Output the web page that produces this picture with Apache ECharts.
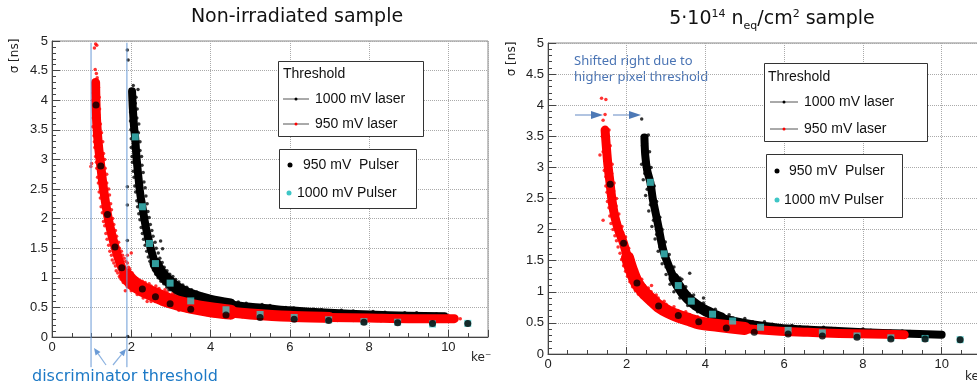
<!DOCTYPE html>
<html>
<head>
<meta charset="utf-8">
<script src="https://cdn.jsdelivr.net/npm/echarts/dist/echarts.min.js"></script>
<style>
html, body { margin: 0; padding: 0; background: #fff; }
#chart { width: 977px; height: 388px; }
</style>
</head>
<body>
<div id="chart"></div>
<script>
// ---- data: non-irradiated sample (left) ----
var xTicksMax = 11;
var thresholdLeft = [0.985, 1.89];

// dense core of the laser clouds (centre of band)
var laser1000L_core = [[2.02,4.15],[2.04,3.85],[2.07,3.55],[2.10,3.35],[2.13,3.05],[2.18,2.7],[2.23,2.4],[2.28,2.2],[2.36,1.88],[2.46,1.58],[2.53,1.4],[2.61,1.24],[2.75,1.08],[2.9,0.97],[3.05,0.88],[3.25,0.79],[3.5,0.71],[4.0,0.61],[4.5,0.55],[5.0,0.51],[5.5,0.48],[6.0,0.45],[7.0,0.41],[8.0,0.38],[9.0,0.36],[9.9,0.35]];
var laser950L_core = [[1.10,4.3],[1.11,3.95],[1.13,3.6],[1.17,3.25],[1.23,2.89],[1.30,2.5],[1.40,2.07],[1.49,1.78],[1.59,1.52],[1.68,1.32],[1.76,1.17],[1.88,1.03],[2.05,0.91],[2.28,0.81],[2.61,0.71],[2.98,0.61],[3.5,0.52],[4.0,0.46],[4.5,0.42],[5.0,0.39],[6.0,0.35],[7.0,0.33],[8.0,0.32],[9.0,0.31],[10.15,0.31]];
// scattered single events around the bands
var laser1000L_pts = [[1.90,4.85],[1.92,4.68],[1.90,2.54],[1.90,2.23],[1.90,1.63],[1.91,0.01],[2.17,4.18],[2.05,4.25],[1.99,4.1],[2.12,4.05],
  [1.98,3.8],[2.15,3.85],[1.99,3.5],[2.19,3.6],[2.0,3.2],[2.22,3.3],[2.03,2.95],[2.26,3.05],[2.07,2.7],[2.3,2.78],
  [2.11,2.45],[2.35,2.52],[2.16,2.2],[2.4,2.25],[2.22,1.98],[2.45,2.02],[2.28,1.75],[2.52,1.8],[2.35,1.55],[2.6,1.6],
  [2.43,1.35],[2.68,1.42],[2.52,1.2],[2.78,1.26],[2.62,1.06],[2.9,1.12],[2.75,0.94],[3.05,1.02],[2.9,0.84],[3.2,0.93],
  [3.1,0.74],[3.4,0.84],[3.35,0.66],[3.65,0.76],[3.7,0.58],[4.0,0.68],[4.1,0.52],[4.4,0.62],[4.6,0.48],[4.9,0.57],
  [5.2,0.44],[5.5,0.53],[5.8,0.41],[6.1,0.49],[6.5,0.38],[6.8,0.46],[7.3,0.36],[7.6,0.44],[8.1,0.35],[8.4,0.42],
  [8.9,0.34],[9.2,0.41],[9.6,0.33],[9.9,0.38],[2.79,1.49],[2.74,1.62],[2.95,0.8],
  [2.0,4.0],[2.1,3.95],[1.98,3.65],[2.14,3.7],[2.0,3.35],[2.18,3.45],[2.02,3.05],[2.22,3.15],[2.05,2.8],[2.27,2.9],
  [2.09,2.55],[2.32,2.62],[2.14,2.3],[2.37,2.38],[2.19,2.08],[2.42,2.12],[2.25,1.85],[2.48,1.9],[2.31,1.65],[2.55,1.7],
  [2.39,1.45],[2.63,1.5],[2.47,1.28],[2.72,1.33],[2.56,1.13],[2.83,1.18],[2.68,1.0],[2.97,1.06],[2.82,0.9],[3.12,0.97],
  [3.0,0.8],[3.3,0.88],[3.22,0.7],[3.52,0.8],[3.5,0.62],[3.8,0.72],[3.9,0.55],[4.2,0.64],[4.35,0.5],[4.7,0.59],
  [4.9,0.46],[5.3,0.55],[5.5,0.43],[5.9,0.5],[6.2,0.4],[6.6,0.47],[7.0,0.37],[7.3,0.45],[7.8,0.36],[8.1,0.43],
  [8.7,0.35],[8.9,0.41],[9.4,0.34],[9.7,0.39]];
var laser950L_pts = [[1.10,4.95],[1.07,4.88],[1.13,4.93],[1.09,4.52],[1.12,4.45],[1.14,4.38],[1.06,4.32],[1.17,4.22],[1.04,4.12],[1.19,4.05],
  [1.05,3.8],[1.2,3.85],[1.03,3.55],[1.22,3.6],[1.06,3.4],[1.25,3.45],[1.08,3.2],[1.28,3.3],[0.98,2.88],[1.0,2.93],
  [1.12,2.95],[1.33,3.0],[1.15,2.7],[1.38,2.75],[1.19,2.45],[1.43,2.5],[1.24,2.2],[1.48,2.25],[1.3,1.95],[1.53,2.0],
  [1.36,1.75],[1.6,1.8],[1.43,1.55],[1.68,1.6],[1.5,1.38],[1.75,1.45],[1.56,1.25],[1.82,1.33],[1.62,1.12],[1.9,1.25],
  [1.7,1.02],[1.96,1.15],[1.8,0.92],[2.02,1.08],[1.9,0.85],[2.1,1.0],[2.0,0.78],[2.2,0.93],[2.15,0.72],[2.35,0.92],
  [2.3,0.66],[2.5,0.86],[2.5,0.6],[2.7,0.82],[2.75,0.56],[2.9,0.76],[3.0,0.52],[3.15,0.7],[3.3,0.46],[3.4,0.63],
  [3.6,0.42],[3.7,0.58],[3.9,0.38],[4.0,0.54],[4.3,0.36],[4.4,0.5],[4.8,0.34],[4.9,0.47],[5.3,0.32],[5.4,0.45],
  [5.8,0.3],[6.0,0.42],[6.5,0.29],[6.7,0.4],[7.2,0.28],[7.4,0.39],[7.9,0.28],[8.1,0.38],[8.6,0.27],[8.8,0.37],
  [9.3,0.27],[9.5,0.36],[9.9,0.27],[10.0,0.36],[10.3,0.31],[1.9,1.38],[2.0,1.42],[1.85,0.78],[2.4,0.6],[3.2,0.45],
  [1.03,4.0],[1.16,4.15],[1.08,3.95],[1.18,3.75],[1.04,3.7],[1.2,3.5],[1.07,3.3],[1.24,3.2],[1.1,3.05],[1.3,3.1],
  [1.13,2.85],[1.34,2.85],[1.17,2.6],[1.38,2.6],[1.22,2.35],[1.45,2.4],[1.27,2.1],[1.5,2.15],[1.33,1.88],[1.56,1.9],
  [1.39,1.65],[1.63,1.7],[1.46,1.45],[1.7,1.5],[1.52,1.3],[1.78,1.38],[1.6,1.2],[1.86,1.28],[1.66,1.08],[1.93,1.18],
  [1.74,0.98],[1.97,1.05],[1.82,0.95],[1.95,0.9],[2.05,0.82],[2.12,0.97],[2.22,0.72],[2.28,0.94],[2.4,0.66],[2.45,0.9],
  [2.6,0.6],[2.62,0.86],[2.8,0.55],[2.85,0.8],[3.1,0.5],[3.05,0.74],[3.4,0.44],[3.3,0.67],[3.75,0.4],[3.6,0.6],
  [4.15,0.37],[4.2,0.54],[4.6,0.35],[4.6,0.5],[5.1,0.33],[5.1,0.46],[5.6,0.31],[5.7,0.44],[6.2,0.29],[6.3,0.42],
  [6.9,0.29],[7.0,0.4],[7.6,0.28],[7.7,0.38],[8.3,0.27],[8.4,0.37],[9.0,0.27],[9.1,0.36],[9.7,0.27],[9.8,0.35]];
var pulser950L = [[1.11,3.92],[1.23,2.89],[1.40,2.07],[1.59,1.52],[1.76,1.17],[2.28,0.81],[2.61,0.68],[2.98,0.56],[3.50,0.47],[4.39,0.37],[5.25,0.33],[6.11,0.30],[6.98,0.28],[7.87,0.25],[8.72,0.24],[9.60,0.23],[10.49,0.23]];
var pulser1000L = [[2.10,3.38],[2.28,2.20],[2.46,1.58],[2.61,1.24],[2.98,0.91],[3.50,0.61],[4.39,0.46],[5.25,0.38],[6.11,0.33],[6.98,0.29],[7.87,0.26],[8.72,0.25],[9.60,0.22],[10.49,0.23]];

// ---- data: 5e14 neq/cm2 sample (right) ----
var laser1000R_core = [[2.45,3.48],[2.47,3.2],[2.52,2.95],[2.60,2.76],[2.66,2.5],[2.74,2.25],[2.82,2.0],[2.88,1.8],[2.95,1.62],[3.08,1.4],[3.2,1.22],[3.31,1.10],[3.45,0.97],[3.65,0.84],[3.9,0.73],[4.18,0.64],[4.4,0.58],[4.69,0.54],[5.0,0.5],[5.4,0.46],[6.1,0.41],[7.0,0.38],[8.0,0.35],[9.0,0.33],[10.0,0.31]];
var laser950R_core = [[1.45,3.6],[1.48,3.35],[1.52,3.05],[1.58,2.73],[1.63,2.45],[1.70,2.2],[1.80,1.98],[1.92,1.78],[2.02,1.55],[2.12,1.35],[2.26,1.14],[2.45,0.98],[2.65,0.86],[2.81,0.77],[3.05,0.68],[3.31,0.61],[3.6,0.55],[3.83,0.5],[4.3,0.46],[5.0,0.41],[5.8,0.37],[6.6,0.35],[7.4,0.33],[8.2,0.32],[9.05,0.31]];
var laser1000R_pts = [[2.38,3.78],[2.40,3.35],[2.55,3.52],[2.38,3.05],[2.58,3.25],[2.42,2.8],[2.62,3.0],[2.48,2.55],[2.7,2.7],[2.56,2.3],
  [2.76,2.45],[2.64,2.05],[2.84,2.2],[2.72,1.85],[2.9,2.0],[2.8,1.65],[2.98,1.8],[2.9,1.45],[3.08,1.6],[3.0,1.28],
  [3.2,1.4],[3.1,1.12],[3.35,1.22],[3.2,1.0],[3.5,1.08],[3.35,0.9],[3.7,0.95],[3.55,0.78],[3.95,0.82],[3.8,0.68],
  [4.25,0.72],[4.1,0.58],[4.6,0.63],[4.5,0.5],[5.0,0.57],[5.0,0.44],[5.5,0.52],[5.6,0.4],[6.2,0.46],[6.5,0.36],
  [7.0,0.43],[7.5,0.33],[8.0,0.4],[8.5,0.31],[9.0,0.37],[9.5,0.29],[10.0,0.35],[3.6,1.3],[3.95,0.9],[3.4,1.2],
  [2.42,3.45],[2.5,3.38],[2.43,3.15],[2.53,3.1],[2.46,2.9],[2.58,2.88],[2.52,2.65],[2.65,2.62],[2.6,2.4],[2.72,2.38],
  [2.68,2.15],[2.8,2.12],[2.76,1.92],[2.87,1.9],[2.84,1.72],[2.94,1.7],[2.92,1.55],[3.02,1.5],[3.0,1.4],[3.12,1.32],
  [3.12,1.2],[3.25,1.15],[3.22,1.08],[3.4,1.02],[3.35,0.98],[3.55,0.9],[3.5,0.86],[3.75,0.8],[3.7,0.74],[4.0,0.7],
  [4.0,0.64],[4.3,0.62],[4.35,0.56],[4.7,0.58],[4.8,0.5],[5.2,0.52],[5.3,0.46],[5.7,0.48],[5.9,0.42],[6.4,0.44],
  [6.7,0.38],[7.2,0.41],[7.6,0.36],[8.2,0.38],[8.6,0.33],[9.2,0.36],[9.6,0.32],[9.9,0.33]];
var laser950R_pts = [[1.36,4.11],[1.47,4.09],[1.40,3.76],[1.45,3.85],[1.40,2.15],[1.38,3.5],[1.55,3.6],[1.40,3.25],[1.58,3.35],[1.43,2.95],
  [1.63,3.05],[1.47,2.7],[1.68,2.75],[1.51,2.45],[1.74,2.5],[1.57,2.22],[1.8,2.25],[1.65,2.0],[1.88,2.05],[1.74,1.82],
  [1.97,1.88],[1.83,1.62],[2.05,1.7],[1.92,1.42],[2.15,1.52],[2.02,1.25],[2.25,1.35],[2.15,1.08],[2.38,1.2],[2.3,0.96],
  [2.55,1.06],[2.5,0.86],[2.75,0.95],[2.7,0.76],[2.95,0.85],[2.95,0.67],[3.2,0.76],[3.2,0.58],[3.5,0.68],[3.5,0.52],
  [3.8,0.6],[3.85,0.46],[4.1,0.56],[4.3,0.41],[4.6,0.52],[4.8,0.38],[5.2,0.48],[5.4,0.36],[5.9,0.45],[6.1,0.33],
  [6.6,0.43],[6.9,0.31],[7.3,0.41],[7.6,0.3],[8.0,0.39],[8.3,0.29],[8.7,0.37],[9.0,0.28],[9.1,0.35],[2.63,1.10],[1.32,3.2],
  [1.42,3.45],[1.52,3.5],[1.44,3.15],[1.56,3.2],[1.47,2.85],[1.62,2.9],[1.5,2.6],[1.67,2.62],[1.55,2.35],[1.73,2.38],
  [1.6,2.1],[1.8,2.12],[1.7,1.9],[1.9,1.95],[1.78,1.72],[1.99,1.75],[1.87,1.52],[2.08,1.58],[1.97,1.33],[2.18,1.42],
  [2.08,1.16],[2.3,1.25],[2.22,1.02],[2.45,1.1],[2.38,0.92],[2.62,1.0],[2.55,0.82],[2.8,0.9],[2.78,0.72],[3.0,0.8],
  [3.05,0.62],[3.3,0.7],[3.35,0.56],[3.6,0.63],[3.7,0.5],[3.95,0.57],[4.1,0.45],[4.4,0.53],[4.6,0.41],[4.9,0.48],
  [5.2,0.38],[5.5,0.46],[5.8,0.35],[6.2,0.43],[6.5,0.33],[6.9,0.41],[7.2,0.32],[7.6,0.39],[7.9,0.3],[8.3,0.37],
  [8.6,0.29],[8.9,0.35]];
var pulser950R = [[1.58,2.73],[1.92,1.78],[2.26,1.14],[2.81,0.77],[3.31,0.62],[3.83,0.52],[4.53,0.42],[5.24,0.35],[6.10,0.32],[6.97,0.29],[7.85,0.27],[8.71,0.24],[9.58,0.24],[10.47,0.23]];
var pulser1000R = [[2.60,2.76],[2.95,1.61],[3.31,1.10],[3.64,0.85],[4.18,0.64],[4.69,0.53],[5.40,0.43],[6.10,0.38],[6.97,0.34],[7.85,0.29],[8.71,0.26],[9.58,0.25],[10.47,0.23]];

var RED = '#ff0000', BLACK = '#000000', CYAN = '#3ec6c6';
var AXIS = '#444';

var chart = echarts.init(document.getElementById('chart'));

function xAxisOf(gi) {
  return {
    gridIndex: gi, type: 'value', min: 0, max: xTicksMax, interval: 2,
    axisLine: { show: true, onZero: false, lineStyle: { color: AXIS } },
    axisTick: { show: true, inside: true, length: 7, lineStyle: { color: AXIS } },
    minorTick: { show: true, splitNumber: 4, length: 4, lineStyle: { color: AXIS } },
    splitLine: { show: true, lineStyle: { type: 'dotted', color: '#aaa' } },
    minorSplitLine: { show: false },
    axisLabel: { color: '#222', fontSize: 13, margin: 4, fontFamily: 'Liberation Sans', showMaxLabel: false }
  };
}
function yAxisOf(gi) {
  return {
    gridIndex: gi, type: 'value', min: 0, max: 5, interval: 0.5,
    axisLine: { show: true, onZero: false, lineStyle: { color: AXIS } },
    axisTick: { show: true, inside: true, length: 8, lineStyle: { color: AXIS } },
    minorTick: { show: true, splitNumber: 5, length: 4, lineStyle: { color: AXIS } },
    splitLine: { show: true, lineStyle: { type: 'dotted', color: '#aaa' } },
    axisLabel: { color: '#222', fontSize: 13, margin: 4, fontFamily: 'Liberation Sans',
      formatter: function (v) { return String(v); } }
  };
}

// thick band core; lo/hi pick the part of the band that is drawn at this width
function coreLine(name, gi, data, color, w, lo, hi) {
  var part = data.filter(function (p) { return (lo == null || p[0] >= lo) && (hi == null || p[0] <= hi); });
  return { name: name, type: 'line', xAxisIndex: gi, yAxisIndex: gi, data: part, symbol: 'none',
    smooth: 0.3, silent: true, lineStyle: { color: color, width: w, cap: 'round', join: 'round' } };
}
function cloud(name, gi, data, color) {
  return { name: name, type: 'scatter', xAxisIndex: gi, yAxisIndex: gi, data: data, symbolSize: 3.5,
    silent: true, itemStyle: { color: color } };
}
function pulser(name, gi, data, color, sym) {
  return { name: name, type: 'scatter', xAxisIndex: gi, yAxisIndex: gi, data: data, symbol: sym,
    symbolSize: 7, itemStyle: { color: color }, z: 5 };
}
function vline(gi, x) {
  return { type: 'line', xAxisIndex: gi, yAxisIndex: gi, data: [[x, -0.51], [x, 4.97]], symbol: 'none',
    clip: false, silent: true, lineStyle: { color: '#6b9bd6', width: 1 }, z: 6 };
}

// ---- annotations / legends (pure layout) ----
function arrow(x1, y1, x2, y2, len, half, lineColor, headColor) {
  var dx = x2 - x1, dy = y2 - y1, L = Math.sqrt(dx * dx + dy * dy);
  var ux = dx / L, uy = dy / L, bx = x2 - ux * len, by = y2 - uy * len;
  return [
    { type: 'line', shape: { x1: x1, y1: y1, x2: bx, y2: by }, style: { stroke: lineColor, lineWidth: 1.2 } },
    { type: 'polygon', shape: { points: [[x2, y2], [bx - uy * half, by + ux * half], [bx + uy * half, by - ux * half]] },
      style: { fill: headColor } }
  ];
}
var legFont = '14px "Liberation Sans", Arial, sans-serif';
function legendBox(x, y, w, h) {
  return { type: 'rect', shape: { x: x, y: y, width: w, height: h }, style: { fill: '#fff', stroke: '#333', lineWidth: 1 }, z: 20 };
}
function legText(x, y, t) {
  return { type: 'text', x: x, y: y, z: 21, style: { text: t, font: legFont, fill: '#111', verticalAlign: 'middle' } };
}
function lineEntry(x1, x2, y, dotColor) {
  return [
    { type: 'line', z: 21, shape: { x1: x1, y1: y, x2: x2, y2: y }, style: { stroke: '#555', lineWidth: 1 } },
    { type: 'circle', z: 22, shape: { cx: (x1 + x2) / 2, cy: y, r: 1.5 }, style: { fill: dotColor } }
  ];
}
function dot(x, y, c) {
  return { type: 'circle', z: 21, shape: { cx: x, cy: y, r: 2.5 }, style: { fill: c } };
}

var graphics = [];
// titles
graphics.push({ type: 'text', x: 297, y: 17, style: { text: 'Non-irradiated sample', font: '19px "DejaVu Sans"', fill: '#111', align: 'center', verticalAlign: 'middle' } });
graphics.push({ type: 'text', x: 772, y: 19, style: {
  text: '{n|5·10}{sup|14}{n| n}{sub|eq}{n|/cm}{sup|2}{n| sample}', align: 'center', verticalAlign: 'middle',
  rich: {
    n: { font: '19px "DejaVu Sans"', fill: '#111', lineHeight: 26, verticalAlign: 'middle' },
    sup: { font: '11px "DejaVu Sans"', fill: '#111', lineHeight: 26, verticalAlign: 'top', padding: [3, 0, 0, 0] },
    sub: { font: '11px "DejaVu Sans"', fill: '#111', lineHeight: 26, verticalAlign: 'bottom', padding: [0, 0, 0, 0] }
  } } });
// axis names
graphics.push({ type: 'text', x: 15, y: 56, rotation: Math.PI / 2, style: { text: 'σ [ns]', font: '12px "DejaVu Sans"', fill: '#222', align: 'center', verticalAlign: 'middle' } });
graphics.push({ type: 'text', x: 512, y: 59, rotation: Math.PI / 2, style: { text: 'σ [ns]', font: '12px "DejaVu Sans"', fill: '#222', align: 'center', verticalAlign: 'middle' } });
graphics.push({ type: 'text', x: 471, y: 358, style: { text: 'ke⁻', font: '12px "DejaVu Sans"', fill: '#222', verticalAlign: 'middle' } });
graphics.push({ type: 'text', x: 965, y: 377, style: { text: 'ke⁻', font: '12px "DejaVu Sans"', fill: '#222', verticalAlign: 'middle' } });
// left annotation
graphics.push({ type: 'text', x: 32, y: 377, style: { text: 'discriminator threshold', font: '16px "DejaVu Sans"', fill: '#1c79c6', verticalAlign: 'middle' } });
graphics = graphics.concat(arrow(106, 365, 94, 348, 7, 3, '#8cb2e0', '#6b9bd6'));
graphics = graphics.concat(arrow(113, 365, 126, 349, 7, 3, '#8cb2e0', '#6b9bd6'));
// right annotation
graphics.push({ type: 'text', x: 574, y: 61, style: { text: 'Shifted right due to', font: '13px "Noto Sans"', fill: '#4a74b4', verticalAlign: 'middle' } });
graphics.push({ type: 'text', x: 574, y: 77, style: { text: 'higher pixel threshold', font: '13px "Noto Sans"', fill: '#4a74b4', verticalAlign: 'middle' } });
graphics = graphics.concat(arrow(575, 115, 603, 115, 12, 4, '#7c9ccd', '#4d79b6'));
graphics = graphics.concat(arrow(613, 115, 641, 115, 12, 4, '#7c9ccd', '#4d79b6'));
// legends left
graphics.push(legendBox(278.5, 61.5, 145, 75));
graphics.push(legText(283, 74, 'Threshold'));
graphics = graphics.concat(lineEntry(283, 309, 99, BLACK));
graphics.push(legText(315, 99, '1000 mV laser'));
graphics = graphics.concat(lineEntry(283, 309, 124, RED));
graphics.push(legText(315, 124, '950 mV laser'));
graphics.push(legendBox(279.5, 149.5, 137, 59));
graphics.push(dot(290, 165, BLACK));
graphics.push(legText(303, 165, '950 mV  Pulser'));
graphics.push(dot(289, 193, CYAN));
graphics.push(legText(297, 193, '1000 mV Pulser'));
// legends right
graphics.push(legendBox(764.5, 63.5, 163, 78));
graphics.push(legText(768, 77, 'Threshold'));
graphics = graphics.concat(lineEntry(770, 798, 102, BLACK));
graphics.push(legText(804, 102, '1000 mV laser'));
graphics = graphics.concat(lineEntry(770, 798, 129, RED));
graphics.push(legText(804, 129, '950 mV laser'));
graphics.push(legendBox(766.5, 154.5, 136, 63));
graphics.push(dot(777, 171, BLACK));
graphics.push(legText(789, 171, '950 mV  Pulser'));
graphics.push(dot(777, 200, CYAN));
graphics.push(legText(784, 200, '1000 mV Pulser'));

var option = {
  animation: false,
  grid: [
    { left: 52, top: 41, width: 436, height: 296, show: true, borderColor: '#888', borderWidth: 1, outerBoundsMode: 'none' },
    { left: 548, top: 43, width: 433, height: 311, show: true, borderColor: '#888', borderWidth: 1, outerBoundsMode: 'none' }
  ],
  xAxis: [xAxisOf(0), xAxisOf(1)],
  yAxis: [yAxisOf(0), yAxisOf(1)],
  series: [
    coreLine('1000 mV laser', 0, laser1000L_core, BLACK, 8),
    coreLine('1000 mV laser', 0, laser1000L_core, BLACK, 12, 2.6, 4.6),
    cloud('1000 mV laser', 0, laser1000L_pts, BLACK),
    coreLine('950 mV laser', 0, laser950L_core, RED, 9),
    coreLine('950 mV laser', 0, laser950L_core, RED, 15, 1.85, 4.6),
    coreLine('950 mV laser', 0, laser950L_core, RED, 11, 4.0, 7.5),
    cloud('950 mV laser', 0, laser950L_pts, RED),
    pulser('1000 mV Pulser', 0, pulser1000L, CYAN, 'rect'),
    pulser('950 mV  Pulser', 0, pulser950L, BLACK, 'circle'),
    vline(0, thresholdLeft[0]),
    vline(0, thresholdLeft[1]),
    coreLine('1000 mV laser', 1, laser1000R_core, BLACK, 8),
    coreLine('1000 mV laser', 1, laser1000R_core, BLACK, 11, 3.1, 4.5),
    cloud('1000 mV laser', 1, laser1000R_pts, BLACK),
    coreLine('950 mV laser', 1, laser950R_core, RED, 9),
    coreLine('950 mV laser', 1, laser950R_core, RED, 13, 2.0, 5.0),
    cloud('950 mV laser', 1, laser950R_pts, RED),
    pulser('1000 mV Pulser', 1, pulser1000R, CYAN, 'rect'),
    pulser('950 mV  Pulser', 1, pulser950R, BLACK, 'circle')
  ],
  graphic: graphics
};
chart.setOption(option);
</script>
</body>
</html>
